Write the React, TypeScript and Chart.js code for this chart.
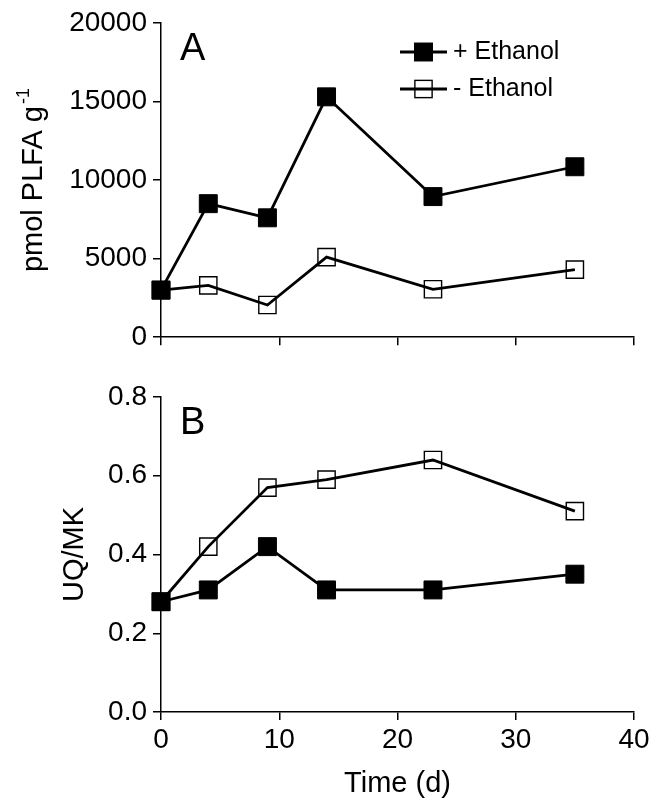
import React, { useEffect, useRef } from 'react';
import { Chart, registerables } from 'chart.js';

Chart.register(...registerables);

// ---------- data ----------
const days = [0, 4, 9, 14, 23, 35];
const plfaWithEthanol = [3000, 8500, 7600, 15300, 8950, 10850];
const plfaWithoutEthanol = [3000, 3300, 2050, 5100, 3050, 4300];
const uqmkWithEthanol = [0.28, 0.31, 0.42, 0.31, 0.31, 0.35];
const uqmkWithoutEthanol = [0.28, 0.42, 0.57, 0.59, 0.64, 0.51];
const seriesLabels = ['+ Ethanol', '- Ethanol'];
const panelLabels = ['A', 'B'];
const plfaTitle = 'pmol PLFA g';
const plfaTitleSup = '-1';
const uqmkTitle = 'UQ/MK';
const xTitle = 'Time (d)';

const FONT = "'Liberation Sans', Arial, Helvetica, sans-serif";

function toXY(xs: number[], ys: number[]) {
  return xs.map((x, i) => ({ x, y: ys[i] }));
}

function makeDatasets(withEth: number[], withoutEth: number[]) {
  return [
    {
      label: seriesLabels[0],
      data: toXY(days, withEth),
      borderColor: '#000',
      backgroundColor: '#000',
      borderWidth: 2.8,
      pointStyle: 'rect',
      pointRadius: 12.7,
      pointHoverRadius: 12.7,
      pointBackgroundColor: '#000',
      pointBorderColor: '#000',
      pointBorderWidth: 1,
      tension: 0,
      clip: false,
    },
    {
      label: seriesLabels[1],
      data: toXY(days, withoutEth),
      borderColor: '#000',
      backgroundColor: 'rgba(0,0,0,0)',
      borderWidth: 2.8,
      pointStyle: 'rect',
      pointRadius: 12.2,
      pointHoverRadius: 12.2,
      pointBackgroundColor: 'rgba(0,0,0,0)',
      pointBorderColor: '#000',
      pointBorderWidth: 1.4,
      tension: 0,
      clip: false,
    },
  ];
}

function makeDecor(
  id: string,
  panel: string,
  yTitle: string,
  ySup: string,
  yTitleBaselineX: number,
  showXTitle: boolean,
  showLegend: boolean
) {
  return {
    id,
    afterDraw(chart: any) {
      const { ctx, chartArea: a } = chart;
      ctx.save();
      ctx.fillStyle = '#000';
      ctx.strokeStyle = '#000';

      // panel letter
      ctx.font = `38px ${FONT}`;
      ctx.textAlign = 'left';
      ctx.textBaseline = 'alphabetic';
      ctx.fillText(panel, a.left + 19, a.top + 37);

      // y-axis title (rotated, with optional superscript)
      const mainFont = `29px ${FONT}`;
      const supFont = `18px ${FONT}`;
      ctx.font = mainFont;
      const w1 = ctx.measureText(yTitle).width;
      ctx.font = supFont;
      const w2 = ySup ? ctx.measureText(ySup).width + 2 : 0;
      const total = w1 + w2;
      ctx.save();
      ctx.translate(yTitleBaselineX, (a.top + a.bottom) / 2);
      ctx.rotate(-Math.PI / 2);
      ctx.textAlign = 'left';
      ctx.font = mainFont;
      ctx.fillText(yTitle, -total / 2, 0);
      if (ySup) {
        ctx.font = supFont;
        ctx.fillText(ySup, -total / 2 + w1 + 2, -13);
      }
      ctx.restore();

      // x-axis title
      if (showXTitle) {
        ctx.font = `29px ${FONT}`;
        ctx.textAlign = 'center';
        ctx.textBaseline = 'alphabetic';
        ctx.fillText(xTitle, (a.left + a.right) / 2, a.bottom + 80);
      }

      // legend
      if (showLegend) {
        const ds = chart.data.datasets;
        ds.forEach((d: any, i: number) => {
          const y = a.top + 29 + i * 37;
          const x0 = a.left + 239;
          const x1 = a.left + 286;
          const cx = (x0 + x1) / 2;
          ctx.lineWidth = d.borderWidth;
          ctx.strokeStyle = d.borderColor;
          ctx.beginPath();
          ctx.moveTo(x0, y);
          ctx.lineTo(x1, y);
          ctx.stroke();
          const s = Math.SQRT1_2 * d.pointRadius;
          ctx.fillStyle = d.pointBackgroundColor;
          ctx.fillRect(cx - s, y - s, 2 * s, 2 * s);
          ctx.lineWidth = d.pointBorderWidth;
          ctx.strokeStyle = d.pointBorderColor;
          ctx.strokeRect(cx - s, y - s, 2 * s, 2 * s);
          ctx.fillStyle = '#000';
          ctx.font = `25px ${FONT}`;
          ctx.textAlign = 'left';
          ctx.textBaseline = 'middle';
          ctx.fillText(d.label, x1 + 6, y);
        });
      }
      ctx.restore();
    },
  };
}

const axisGrid = {
  display: true,
  drawOnChartArea: false,
  drawTicks: true,
  tickLength: 8,
  color: '#000',
  lineWidth: 1.5,
};
const axisBorder = { display: true, color: '#000', width: 1.5 };

function xScale(showLabels: boolean, height: number) {
  return {
    type: 'linear',
    min: 0,
    max: 40,
    ticks: {
      stepSize: 10,
      display: showLabels,
      color: '#000',
      font: { family: FONT, size: 28 },
      padding: 3,
      maxRotation: 0,
    },
    grid: axisGrid,
    border: axisBorder,
    afterFit: (s: any) => {
      s.height = height;
    },
  };
}

export default function App() {
  const refA = useRef<HTMLCanvasElement>(null);
  const refB = useRef<HTMLCanvasElement>(null);

  useEffect(() => {
    const chartA = new Chart(refA.current as HTMLCanvasElement, {
      type: 'line',
      data: { datasets: makeDatasets(plfaWithEthanol, plfaWithoutEthanol) as any },
      options: {
        responsive: false,
        animation: false,
        devicePixelRatio: 1,
        layout: { padding: { left: 0, top: 23, right: 21, bottom: 0 } },
        plugins: { legend: { display: false }, tooltip: { enabled: false } },
        scales: {
          x: xScale(false, 22) as any,
          y: {
            min: 0,
            max: 20000,
            ticks: {
              stepSize: 5000,
              color: '#000',
              font: { family: FONT, size: 28 },
              padding: 6,
              callback: (v: any) => String(v),
            },
            grid: axisGrid,
            border: axisBorder,
            afterFit: (s: any) => {
              s.width = 161;
            },
          } as any,
        },
      },
      plugins: [makeDecor('decorA', panelLabels[0], plfaTitle, plfaTitleSup, 42, false, true)],
    });

    const chartB = new Chart(refB.current as HTMLCanvasElement, {
      type: 'line',
      data: { datasets: makeDatasets(uqmkWithEthanol, uqmkWithoutEthanol) as any },
      options: {
        responsive: false,
        animation: false,
        devicePixelRatio: 1,
        layout: { padding: { left: 0, top: 37, right: 21, bottom: 0 } },
        plugins: { legend: { display: false }, tooltip: { enabled: false } },
        scales: {
          x: xScale(true, 92) as any,
          y: {
            min: 0,
            max: 0.8,
            ticks: {
              stepSize: 0.2,
              color: '#000',
              font: { family: FONT, size: 28 },
              padding: 6,
              callback: (v: any) => Number(v).toFixed(1),
            },
            grid: axisGrid,
            border: axisBorder,
            afterFit: (s: any) => {
              s.width = 161;
            },
          } as any,
        },
      },
      plugins: [makeDecor('decorB', panelLabels[1], uqmkTitle, '', 83, true, false)],
    });

    return () => {
      chartA.destroy();
      chartB.destroy();
    };
  }, []);

  return (
    <div style={{ position: 'absolute', left: 0, top: 0, width: 655, height: 804, background: '#fff' }}>
      <canvas ref={refA} width={655} height={360} style={{ position: 'absolute', left: 0, top: 0, width: 655, height: 360 }} />
      <canvas ref={refB} width={655} height={444} style={{ position: 'absolute', left: 0, top: 360, width: 655, height: 444 }} />
    </div>
  );
}
